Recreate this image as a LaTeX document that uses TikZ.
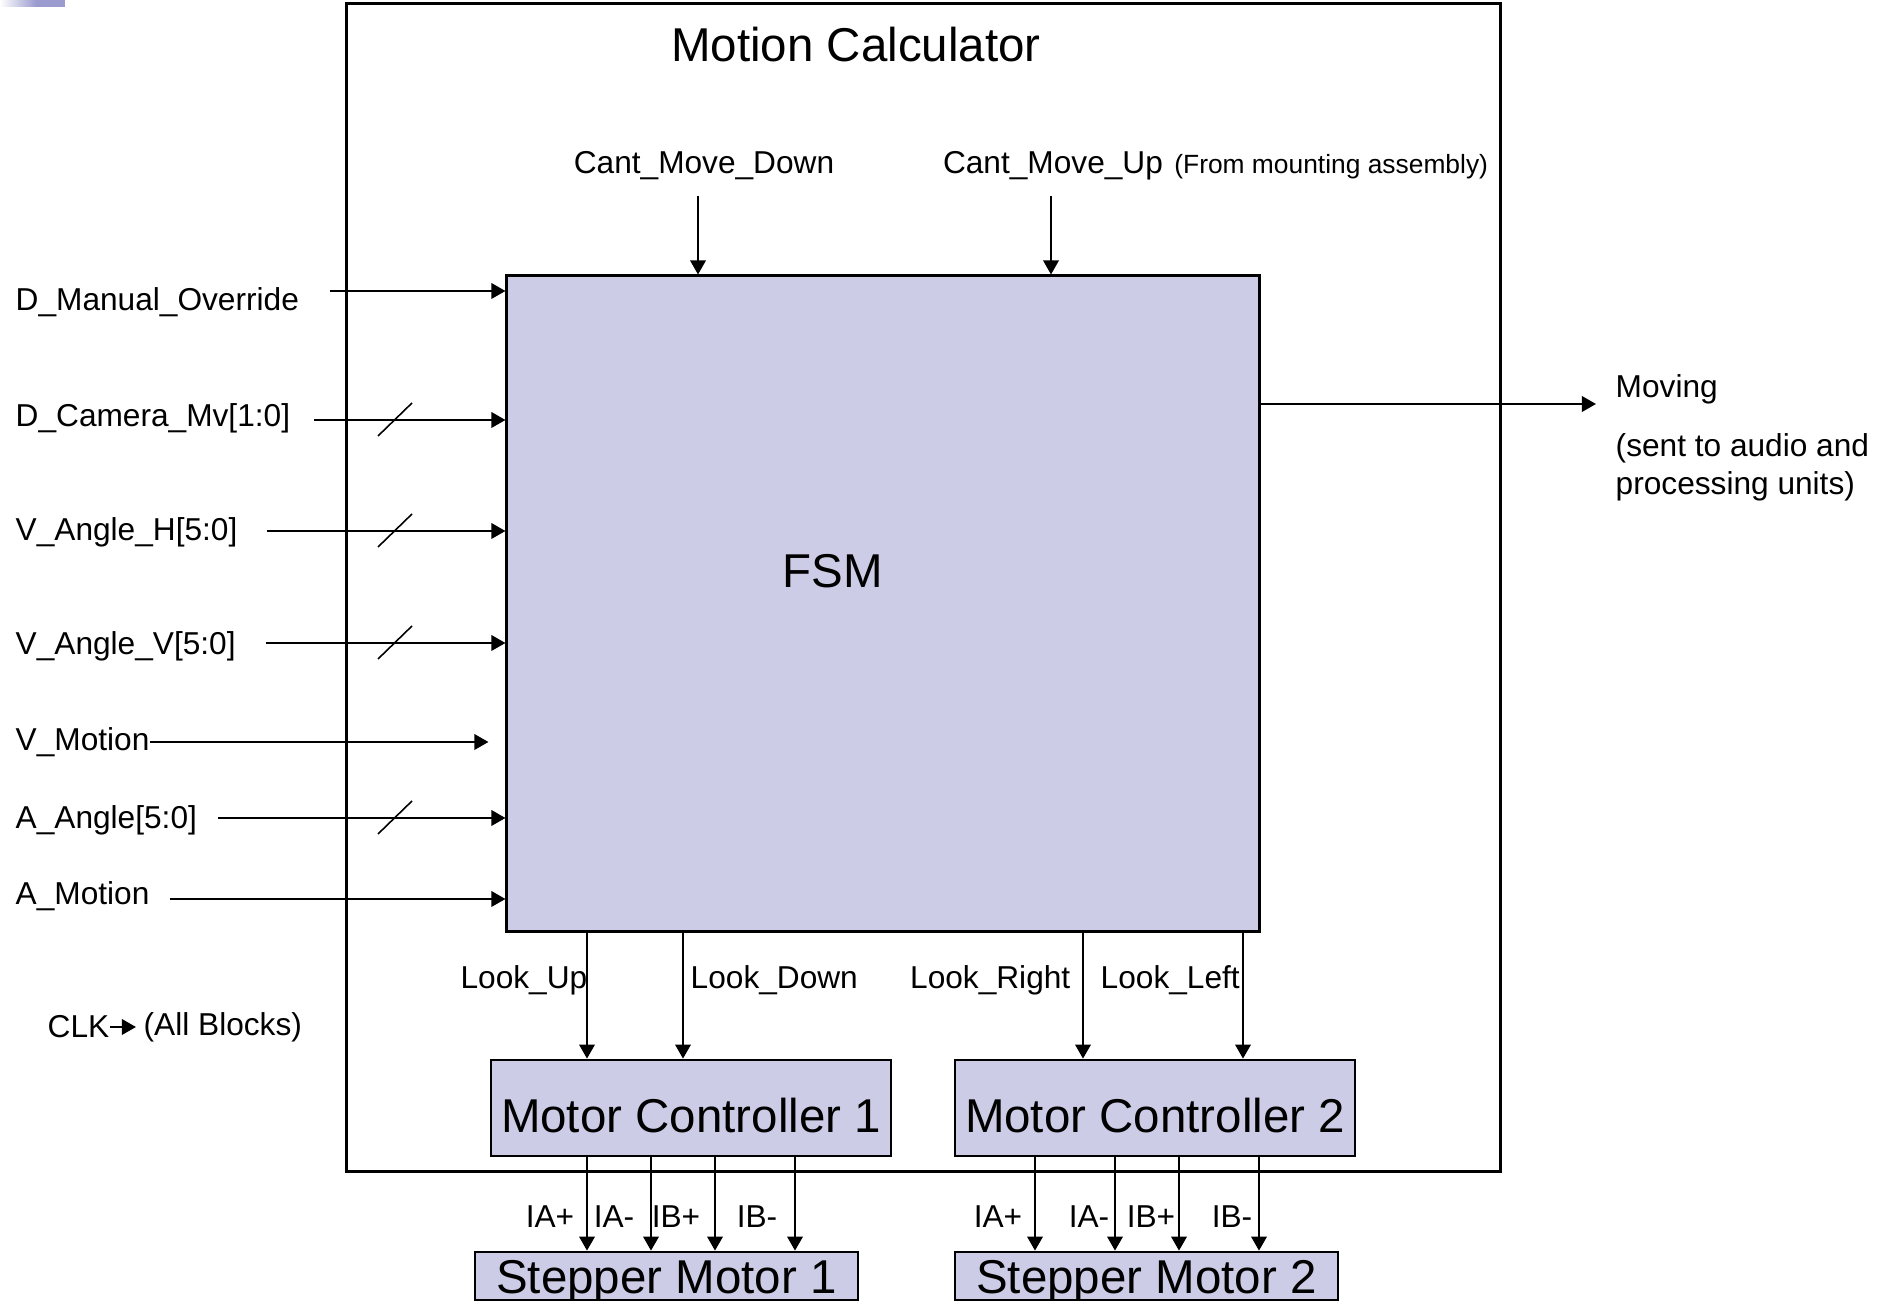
\documentclass[tikz,border=0pt]{standalone}
\usepackage{fontspec}
\setmainfont{Liberation Sans}
\usetikzlibrary{arrows.meta}
\definecolor{blockfill}{RGB}{204,204,230}
\definecolor{slidebar}{RGB}{155,155,207}

\begin{document}
\begin{tikzpicture}
[x=0.01cm, y=-0.01cm,
 sig/.style={-{Triangle[length=4pt,width=4.4pt]}, line width=0.6pt},
 bus/.style={line width=0.45pt},
 block/.style={draw, line width=0.75pt, fill=blockfill, inner sep=0pt, font=\fontsize{13.5}{16}\selectfont},
 lbl/.style={inner sep=0pt, font=\fontsize{9}{11}\selectfont},
 big/.style={inner sep=0pt, font=\fontsize{13.5}{16}\selectfont},
 note/.style={inner sep=0pt, font=\fontsize{7.5}{9}\selectfont}
]
\useasboundingbox (0,0) rectangle (1896,1301);

% bar in the corner of the slide
\shade[left color=white, right color=slidebar] (0,0) rectangle (36,7);
\fill[slidebar] (36,0) rectangle (65,7);

\node[draw, line width=0.7pt, minimum width=11.53cm, minimum height=11.67cm] (calc) at (923.5,587.5) {};
\node[big] (title) at (856,45) {Motion Calculator};

\node[block, minimum width=7.52cm, minimum height=6.55cm] (fsm) at (883,603.5) {};
\node[big] (fsmtxt) at (833,571) {FSM};

\node[block, minimum width=4cm, minimum height=0.96cm, text height=13.7pt, text depth=0pt] (mc1) at (691,1108) {Motor Controller 1};
\node[block, minimum width=4cm, minimum height=0.96cm, text height=13.7pt, text depth=0pt] (mc2) at (1155,1108) {Motor Controller 2};
\node[block, minimum width=3.83cm, minimum height=0.48cm, text height=9.7pt, text depth=0pt] (sm1) at (666.5,1276) {Stepper Motor 1};
\node[block, minimum width=3.83cm, minimum height=0.48cm, text height=9.7pt, text depth=0pt] (sm2) at (1146.5,1276) {Stepper Motor 2};

% inputs on the left
\node[lbl, anchor=west] (dman) at (15,302) {D\_Manual\_Override};
\node[lbl, anchor=west] (dcam) at (15,418) {D\_Camera\_Mv[1:0]};
\node[lbl, anchor=west] (vangh) at (15,532) {V\_Angle\_H[5:0]};
\node[lbl, anchor=west] (vangv) at (15,646) {V\_Angle\_V[5:0]};
\node[lbl, anchor=west] (vmot) at (15,742) {V\_Motion};
\node[lbl, anchor=west] (aang) at (15,820) {A\_Angle[5:0]};
\node[lbl, anchor=west] (amot) at (15,896) {A\_Motion};

\coordinate (i1) at (330,291);
\coordinate (i2) at (314,420);
\coordinate (i3) at (267,531);
\coordinate (i4) at (266,643);
\coordinate (i6) at (218,818);
\coordinate (i7) at (170,899);
\foreach \c in {i1,i2,i3,i4,i6,i7}
  \draw[sig] (\c) -- (\c -| fsm.west);
\draw[sig] (vmot.east) -- ([xshift=-0.17cm]vmot.east -| fsm.west);
\foreach \y in {420,531,643,818}
  \draw[bus] (378,\y+16) -- (412,\y-17);% bus marks

\node[lbl, anchor=west] (clk) at (47,1027) {CLK};
\node[lbl, anchor=west] (all) at (143,1027) {(All Blocks)};
\draw[sig, shorten >=2pt] (clk.east) -- (all.west);

% inputs on top
\node[lbl] (cmdown) at (704,166) {Cant\_Move\_Down};
\node[lbl] (cmup) at (1053,166) {Cant\_Move\_Up};
\node[note, anchor=base west] (mount) at ([xshift=0.1cm]cmup.base east) {(From mounting assembly)};
\coordinate (t1) at (698,196);
\coordinate (t2) at (1051,196);
\draw[sig] (t1) -- (t1 |- fsm.north);
\draw[sig] (t2) -- (t2 |- fsm.north);

% output
\coordinate (mv) at (1596,404);
\draw[sig] (mv -| fsm.east) -- (mv);
\node[lbl, anchor=west] (moving) at (1615,389) {Moving};
\node[lbl, anchor=north west, align=left, font=\fontsize{9}{10.7}\selectfont] (sent) at (1615,433) {(sent to audio and\\processing units)};

% fsm to motor controllers
\coordinate (lu) at (587,0);
\coordinate (ld) at (683,0);
\coordinate (lr) at (1083,0);
\coordinate (ll) at (1243,0);
\draw[sig] (fsm.south -| lu) -- (mc1.north -| lu);
\draw[sig] (fsm.south -| ld) -- (mc1.north -| ld);
\draw[sig] (fsm.south -| lr) -- (mc2.north -| lr);
\draw[sig] (fsm.south -| ll) -- (mc2.north -| ll);
\node[lbl, anchor=east] (lookup) at (588,980) {Look\_Up};
\node[lbl, anchor=west] (lookdown) at (690,980) {Look\_Down};
\node[lbl, anchor=east] (lookright) at (1071,980) {Look\_Right};
\node[lbl, anchor=west] (lookleft) at (1100,980) {Look\_Left};

% motor controllers to steppers
\foreach \x [count=\i] in {587,651,715,795} {
  \coordinate (a\i) at (\x,0);
  \draw[sig] (mc1.south -| a\i) -- (sm1.north -| a\i);
}
\foreach \x [count=\i] in {1035,1115,1179,1259} {
  \coordinate (b\i) at (\x,0);
  \draw[sig] (mc2.south -| b\i) -- (sm2.north -| b\i);
}
\foreach \x/\t [count=\i] in {550/IA+,614/IA-,676/IB+,757/IB-}
  \node[lbl] (pa\i) at (\x,1217) {\t};
\foreach \x/\t [count=\i] in {998/IA+,1089/IA-,1151/IB+,1232/IB-}
  \node[lbl] (pb\i) at (\x,1217) {\t};

\end{tikzpicture}
\end{document}
